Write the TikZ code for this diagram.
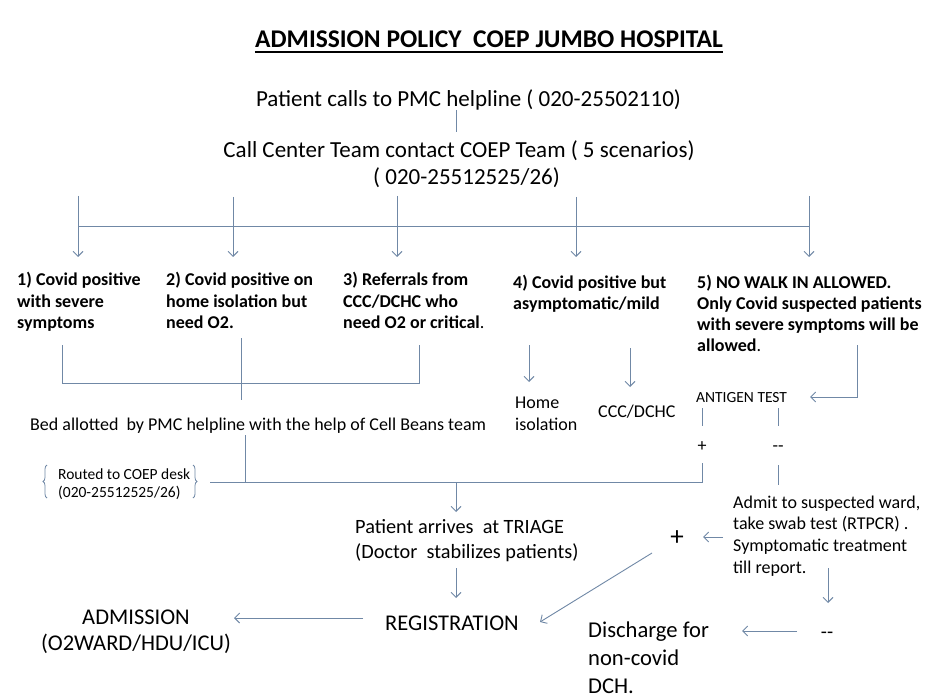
\documentclass[tikz,border=0pt]{standalone}
\usepackage{fontspec}
\setmainfont{Carlito}
\usetikzlibrary{arrows.meta,decorations.pathreplacing}
\definecolor{ln}{RGB}{112,136,166}
\newcommand\mlL[1]{\begin{tabular}[t]{@{}l@{}}#1\end{tabular}}
\newcommand\mlC[1]{\begin{tabular}[t]{@{}c@{}}#1\end{tabular}}
\newcommand\fs[2]{\fontsize{#1}{#2}\selectfont}
\begin{document}
\begin{tikzpicture}[x=1pt,y=-1pt,
  txt/.style={inner sep=0pt, anchor=base west},
  ctxt/.style={inner sep=0pt, anchor=base},
  conn/.style={draw=ln, line width=0.9pt},
  arr/.style={conn, -{Straight Barb[length=5pt,width=10pt]}},
  brc/.style={draw=ln, line width=0.8pt, decorate, decoration={brace, amplitude=4pt}}]
\useasboundingbox[fill=white] (0,0) rectangle (933,700);

% ---- texts ----
\node[ctxt, font=\fs{25.5}{30}\bfseries] (title) at (489,48) {ADMISSION POLICY\ \ COEP JUMBO HOSPITAL};
\draw[line width=1.5pt] ([yshift=-4pt]title.base west) -- ([yshift=-4pt]title.base east);

\node[ctxt, font=\fs{23}{28}] (pc) at (468.5,107) {Patient calls to PMC helpline ( 020-25502110)};
\node[ctxt, font=\fs{23}{28}] (cc1) at (459,158) {Call Center Team contact COEP Team ( 5 scenarios)};
\node[ctxt, font=\fs{23}{28}] (cc2) at (466.5,185) {( 020-25512525/26)};

\node[txt, font=\fs{18}{21.5}\bfseries] (s1) at (17,286) {\mlL{1) Covid positive\\with severe\\symptoms}};
\node[txt, font=\fs{18}{21.5}\bfseries] (s2) at (166,286) {\mlL{2) Covid positive on\\home isolation but\\need O2.}};
\node[txt, font=\fs{18}{21.5}\bfseries] (s3) at (343,286) {\mlL{3) Referrals from\\CCC/DCHC who\\need O2 or critical{\mdseries .}}};
\node[txt, font=\fs{18}{21.5}\bfseries] (s4) at (513,288) {\mlL{4) Covid positive but\\asymptomatic/mild}};
\node[txt, font=\fs{18}{21}\bfseries] (s5) at (697,288) {\mlL{5) NO WALK IN ALLOWED.\\Only Covid suspected patients\\with severe symptoms will be\\allowed{\mdseries .}}};

\node[txt, font=\fs{18}{22}] (bed) at (30,430) {Bed allotted\ \ by PMC helpline with the help of Cell Beans team};
\node[txt, font=\fs{15.5}{18}] (rt) at (58,479) {\mlL{Routed to COEP desk\\(020-25512525/26)}};
\node[txt, font=\fs{20.3}{25}] (pa) at (355,533) {\mlL{Patient arrives\ \ at TRIAGE\\(Doctor\ \ stabilizes patients)}};
\node[txt, font=\fs{22.5}{27}] (reg) at (385,630) {REGISTRATION};
\node[ctxt, font=\fs{22.5}{26}] (adm) at (136,624) {\mlC{ADMISSION\\(O2WARD/HDU/ICU)}};

\node[txt, font=\fs{18}{22}] (home) at (515,408) {\mlL{Home\\isolation}};
\node[txt, font=\fs{18}{22}] (ccc) at (598,417) {CCC/DCHC};
\node[txt, font=\fs{15.5}{18}] (ag) at (696,402) {ANTIGEN TEST};
\node[inner sep=0pt, font=\fs{18}{22}] (plus) at (702,447) {+};
\node[inner sep=0pt, font=\fs{18}{22}] (minus) at (778,449) {-{}-};
\node[txt, font=\fs{18}{21.8}] (adw) at (733,508) {\mlL{Admit to suspected ward,\\take swab test (RTPCR) .\\Symptomatic treatment\\till report.}};
\node[inner sep=0pt, font=\fs{27}{30}] (bplus) at (677,538) {+};
\node[inner sep=0pt, font=\fs{20}{24}] (bminus) at (827,635) {-{}-};
\node[txt, font=\fs{22.6}{28}] (dis) at (588,637) {\mlL{Discharge for\\non-covid\\DCH.}};

% ---- coordinates ----
\coordinate (pcB) at (456,110);
\coordinate (ccT) at (456,132);
\foreach \i/\x/\t in {1/78/196,2/233/197,3/397/196,4/576/197,5/809/196}{
  \coordinate (bt\i) at (\x,\t);
  \coordinate (bh\i) at (\x,226);
  \coordinate (ba\i) at (\x,257);
}
\coordinate (g1) at (62,345);  \coordinate (g1b) at (62,383);
\coordinate (g2) at (241,338); \coordinate (g2b) at (241,400);
\coordinate (g3) at (419,345); \coordinate (g3b) at (419,383);
\coordinate (bedB) at (245,435); \coordinate (bedJ) at (245,482);
\coordinate (rtR) at (210,482);
\coordinate (plusB) at (702,463); \coordinate (plusJ) at (702,482);
\coordinate (triT) at (456,482); \coordinate (triA) at (456,512);
\coordinate (paB) at (456,568); \coordinate (regT) at (456,598);
\coordinate (regL) at (363,618); \coordinate (admR) at (234,618);
\coordinate (h1) at (529,345); \coordinate (h1b) at (529,382);
\coordinate (c1) at (630,348); \coordinate (c1b) at (630,387);
\coordinate (f1) at (857,345); \coordinate (f2) at (857,397); \coordinate (f3) at (810,397);
\coordinate (ap1) at (702,408); \coordinate (ap2) at (702,426);
\coordinate (am1) at (778,408); \coordinate (am2) at (778,426);
\coordinate (mm1) at (778,465); \coordinate (mm2) at (778,485);
\coordinate (bp1) at (723,537); \coordinate (bp2) at (703,537);
\coordinate (dg1) at (652,553); \coordinate (dg2) at (540,622);
\coordinate (rp1) at (828,568); \coordinate (rp2) at (828,603);
\coordinate (dm1) at (797,631); \coordinate (dm2) at (742,631);

% ---- connectors ----
\draw[conn] (pcB) -- (ccT);
\draw[conn] (bh1) -- (bh5);
\foreach \i in {1,...,5}{\draw[arr] (bt\i) -- (ba\i);}
\draw[conn] (g1) -- (g1b) -- (g3b) -- (g3);
\draw[conn] (g2) -- (g2b);
\draw[conn] (bedB) -- (bedJ);
\draw[conn] (rtR) -- (plusJ) -- (plusB);
\draw[brc] (47,498) -- (47,465);
\draw[brc] (193,465) -- (193,498);
\draw[arr] (triT) -- (triA);
\draw[arr] (paB) -- (regT);
\draw[arr] (regL) -- (admR);
\draw[arr] (h1) -- (h1b);
\draw[arr] (c1) -- (c1b);
\draw[arr] (f1) -- (f2) -- (f3);
\draw[conn] (ap1) -- (ap2);
\draw[conn] (am1) -- (am2);
\draw[conn] (mm1) -- (mm2);
\draw[arr] (bp1) -- (bp2);
\draw[arr] (dg1) -- (dg2);
\draw[arr] (rp1) -- (rp2);
\draw[arr] (dm1) -- (dm2);
\end{tikzpicture}
\end{document}
